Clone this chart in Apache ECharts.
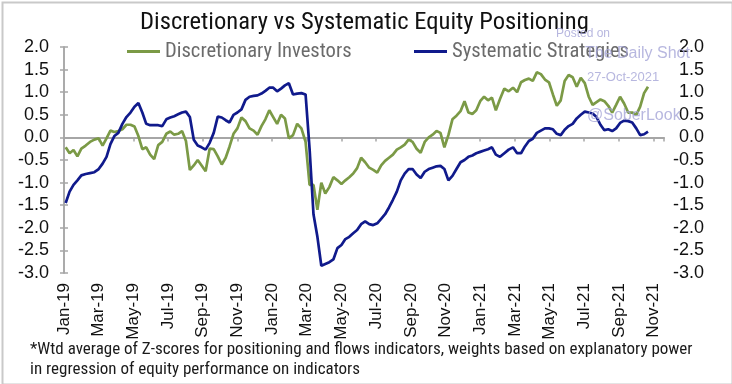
<!DOCTYPE html>
<html>
<head>
<meta charset="utf-8">
<script src="https://cdn.jsdelivr.net/npm/echarts@6/dist/echarts.min.js"></script>
<style>
html,body{margin:0;padding:0;background:#fff;}
#chart{width:732px;height:384px;}
</style>
</head>
<body>
<div id="chart"></div>
<script>
// ---- DATA ----
const titleText = 'Discretionary vs Systematic Equity Positioning';
const seriesNames = ['Discretionary Investors', 'Systematic Strategies'];
const firstWeek = '2019-01-04';   // weekly observations
const tickLabels = ['Jan-19','Mar-19','May-19','Jul-19','Sep-19','Nov-19','Jan-20','Mar-20','May-20','Jul-20','Sep-20','Nov-20','Jan-21','Mar-21','May-21','Jul-21','Sep-21','Nov-21'];
const yTicks = [-3, 2, 0.5];
const discretionary = [
 -0.22,-0.35,-0.28,-0.42,-0.25,-0.18,-0.10,-0.05,-0.02,-0.18,
 -0.02,0.15,0.12,0.14,0.18,0.28,0.28,0.24,0.03,-0.26,
 -0.22,-0.38,-0.48,-0.17,-0.10,0.08,0.13,0.06,0.08,0.14,
 -0.08,-0.72,-0.62,-0.50,-0.62,-0.75,-0.25,-0.26,-0.42,-0.60,
 -0.45,-0.20,0.08,0.20,0.44,0.36,0.20,0.15,0.06,0.25,
 0.40,0.60,0.45,0.30,0.50,0.42,-0.02,0.05,0.30,0.20,
 -0.10,-1.05,-1.05,-1.60,-1.00,-1.24,-1.10,-0.88,-0.95,-1.03,
 -0.95,-0.88,-0.80,-0.68,-0.45,-0.55,-0.67,-0.72,-0.78,-0.62,
 -0.52,-0.45,-0.38,-0.27,-0.22,-0.16,-0.05,-0.10,-0.25,-0.34,
 -0.10,0.00,0.06,0.14,0.10,-0.22,0.05,0.40,0.48,0.58,
 0.80,0.55,0.52,0.60,0.80,0.90,0.82,0.88,0.60,0.85,
 1.08,1.02,1.10,1.00,1.22,1.27,1.30,1.25,1.44,1.40,
 1.28,1.22,0.95,0.70,0.82,1.25,1.38,1.33,1.12,1.32,
 1.20,0.90,0.72,0.78,0.84,0.80,0.70,0.55,0.72,0.90,
 0.75,0.55,0.55,0.50,0.68,0.98,1.12
];
const systematic = [
 -1.45,-1.20,-1.05,-0.95,-0.84,-0.81,-0.79,-0.77,-0.70,-0.58,
 -0.43,-0.15,0.03,0.10,0.30,0.45,0.55,0.68,0.76,0.55,
 0.30,0.27,0.27,0.27,0.25,0.40,0.44,0.47,0.51,0.55,
 0.57,0.45,-0.05,-0.18,-0.22,-0.27,-0.12,0.10,0.46,0.44,
 0.38,0.33,0.50,0.55,0.62,0.83,0.90,0.92,0.93,0.97,
 1.03,1.10,1.10,1.02,1.08,1.15,1.20,0.95,0.97,0.98,
 0.95,-0.25,-1.70,-2.20,-2.84,-2.80,-2.76,-2.70,-2.45,-2.38,
 -2.25,-2.20,-2.12,-2.05,-1.92,-1.86,-1.92,-1.94,-1.90,-1.80,
 -1.70,-1.55,-1.38,-1.20,-0.95,-0.80,-0.70,-0.70,-0.82,-0.90,
 -0.76,-0.70,-0.67,-0.64,-0.63,-0.70,-0.95,-0.85,-0.70,-0.55,
 -0.50,-0.43,-0.40,-0.35,-0.32,-0.29,-0.26,-0.22,-0.38,-0.43,
 -0.35,-0.27,-0.22,-0.35,-0.35,-0.20,-0.08,-0.03,0.10,0.15,
 0.20,0.20,0.18,0.08,0.05,0.17,0.25,0.30,0.42,0.50,
 0.57,0.55,0.53,0.45,0.28,0.16,0.18,0.14,0.20,0.32,
 0.37,0.36,0.33,0.20,0.05,0.07,0.13
];
const footnoteLines = [
 '*Wtd average of Z-scores for positioning and flows indicators, weights based on explanatory power',
 'in regression of equity performance on indicators'
];
const watermark = ['Posted on', 'The Daily Shot', '27-Oct-2021', '@SoberLook'];

// ---- helpers ----
function monthsSinceStart(d) {
  const y = d.getUTCFullYear(), m = d.getUTCMonth(), day = d.getUTCDate();
  const dim = new Date(Date.UTC(y, m + 1, 0)).getUTCDate();
  return (y - 2019) * 12 + m + (day - 1) / dim;
}
const start = new Date(firstWeek + 'T00:00:00Z');
function toPairs(vals) {
  return vals.map((v, i) => {
    const d = new Date(start.getTime() + i * 7 * 86400000);
    return [monthsSinceStart(d), v];
  });
}

const NARROW = "'Liberation Sans Narrow','Arial Narrow','Roboto Condensed',sans-serif";
const SANS = "'Liberation Sans',Arial,Helvetica,sans-serif";
const GREEN = '#7b9a46';
const BLUE = '#101a8c';
const AXIS = '#a6a6a6';
const WM = 'rgba(165,165,215,0.8)';

const chart = echarts.init(document.getElementById('chart'), null, {renderer: 'canvas'});
const yAxisBase = {
  type: 'value', min: yTicks[0], max: yTicks[1], interval: yTicks[2],
  splitLine: {show: false},
  axisLine: {show: true, lineStyle: {color: AXIS, width: 1.5}},
  axisTick: {show: true, inside: false, length: 4, lineStyle: {color: AXIS, width: 1.5}},
};
const option = {
  animation: false,
  backgroundColor: '#fff',
  title: {
    text: titleText, left: 135, top: 5,
    textStyle: {fontFamily: NARROW, fontSize: 24.6, fontWeight: 'normal', color: '#111'}
  },
  legend: [
    {data: [seriesNames[0]], left: 122, top: 36, icon: 'rect', itemWidth: 33, itemHeight: 3,
     textStyle: {fontFamily: NARROW, fontSize: 20.6, color: '#6b6b6b'}},
    {data: [seriesNames[1]], left: 409, top: 36, icon: 'rect', itemWidth: 33, itemHeight: 3,
     textStyle: {fontFamily: NARROW, fontSize: 20.6, color: '#6b6b6b'}}
  ],
  grid: {left: 64, right: 68, top: 47, bottom: 111, containLabel: false},
  xAxis: [
    {type: 'value', min: 0, max: 34.6, interval: 2, position: 'bottom',
     axisLine: {show: false, onZero: false}, axisTick: {show: false}, splitLine: {show: false},
     axisLabel: {show: true, rotate: 90, margin: 10, fontFamily: SANS, fontSize: 17, color: '#111',
       showMaxLabel: false,
       formatter: v => { const k = Math.round(v / 2); return (Math.abs(v - k * 2) < 1e-6 && tickLabels[k]) ? tickLabels[k] : ''; }}},
    {type: 'value', min: 0, max: 34.6, interval: 2, position: 'top',
     axisLine: {show: true, onZero: true, onZeroAxisIndex: 0, lineStyle: {color: AXIS, width: 2}},
     axisTick: {show: true, inside: true, length: 4, lineStyle: {color: AXIS, width: 1.5}},
     axisLabel: {show: false}, splitLine: {show: false}}
  ],
  yAxis: [
    Object.assign({}, yAxisBase, {position: 'left',
      axisLabel: {margin: 15, fontFamily: SANS, fontSize: 18, color: '#111', formatter: v => v.toFixed(1)}}),
    Object.assign({}, yAxisBase, {position: 'right',
      axisLabel: {margin: 40, align: 'right', fontFamily: SANS, fontSize: 18, color: '#111', formatter: v => v.toFixed(1)}})
  ],
  series: [
    {name: seriesNames[0], type: 'line', xAxisIndex: 0, yAxisIndex: 0, data: toPairs(discretionary),
     showSymbol: false, symbol: 'none', lineStyle: {color: GREEN, width: 2.7}, itemStyle: {color: GREEN}, z: 3},
    {name: seriesNames[1], type: 'line', xAxisIndex: 0, yAxisIndex: 0, data: toPairs(systematic),
     showSymbol: false, symbol: 'none', lineStyle: {color: BLUE, width: 2.7}, itemStyle: {color: BLUE}, z: 4}
  ],
  graphic: [
    {type: 'rect', left: 0, top: 0, shape: {x: 1, y: 1, width: 730, height: 382},
     style: {fill: 'none', stroke: '#c9c9c9', lineWidth: 2}, silent: true, z: 0},
    {type: 'text', left: 556, top: 28, style: {text: watermark[0], font: "12px 'Liberation Sans',sans-serif", fill: WM}, z: 100},
    {type: 'text', left: 585, top: 46, style: {text: watermark[1], font: "16px 'Liberation Sans',sans-serif", fill: WM}, z: 100},
    {type: 'text', left: 587, top: 71, style: {text: watermark[2], font: "13px 'Liberation Sans',sans-serif", fill: WM}, z: 100},
    {type: 'text', left: 587, top: 108, style: {text: watermark[3], font: "16px 'Liberation Sans',sans-serif", fill: WM}, z: 100},
    {type: 'text', left: 30, top: 340, style: {text: footnoteLines.join('\n'), font: "17px " + NARROW, lineHeight: 20, fill: '#1a1a1a'}, z: 1}
  ]
};
chart.setOption(option);
</script>
</body>
</html>
